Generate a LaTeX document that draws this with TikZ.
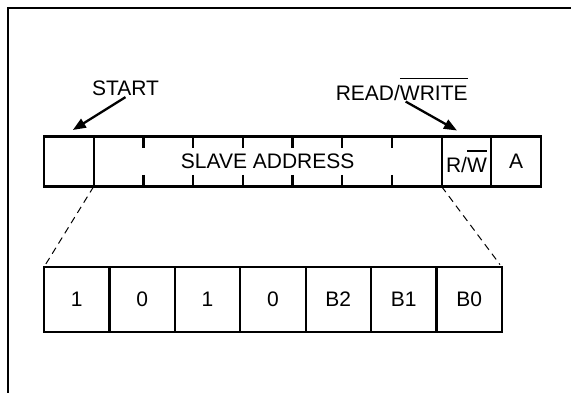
\documentclass[tikz,border=0pt]{standalone}
\usepackage{fontspec}
\setmainfont{Liberation Sans}
\usepackage{tikz}
\usetikzlibrary{arrows.meta}
\usetikzlibrary{positioning}
\usetikzlibrary{calc}

\newcommand{\ovl}[1]{\setbox0\hbox{#1}\rlap{\raisebox{1.45\ht0}{\rule{\wd0}{1.6pt}}}\box0}

\begin{document}
\begin{tikzpicture}[x=1pt,y=-1pt,>={Triangle[length=13pt,width=10pt]},node distance=0pt,
        cell/.style={rectangle,draw=black,line width=2.2pt,outer sep=0pt,inner sep=0pt,
          minimum width=49.7pt,minimum height=50pt,font=\fontsize{21}{24}\selectfont},
        bit/.style={cell,minimum width=65.4pt,minimum height=65pt},
        txt/.style={inner sep=1pt,font=\fontsize{21}{24}\selectfont},
        pointer/.style={->,line width=2.3pt},
        fan/.style={dashed,dash pattern=on 7pt off 5pt,line width=1pt,shorten >=3pt}]

        \useasboundingbox (0,0) rectangle (571,393);
        \draw[line width=2.2pt] (571,8) -- (8,8) -- (8,393);

        % frame of the address byte
        \node [cell,anchor=north west]  (st)  at (44,136.5) {};
        \node [cell,minimum width=347.9pt] (sa) [right=of st] {SLAVE ADDRESS};
        \node [cell]                    (rw)  [right=of sa] {R/\ovl{W}};
        \node [cell]                    (ack) [right=of rw] {A};

        \draw[line width=2.2pt] (sa.north west)
          ++(49.7,0) -- ++(0,11.5) ++(0,27) -- ++(0,11.5)
          ++(49.7,-50) -- ++(0,11.5) ++(0,27) -- ++(0,11.5)
          ++(49.7,-50) -- ++(0,11.5) ++(0,27) -- ++(0,11.5)
          ++(49.7,-50) -- ++(0,11.5) ++(0,27) -- ++(0,11.5)
          ++(49.7,-50) -- ++(0,11.5) ++(0,27) -- ++(0,11.5)
          ++(49.7,-50) -- ++(0,11.5) ++(0,27) -- ++(0,11.5);

        % the seven address bits
        \node [bit,anchor=north west]   (b1)  at (44,267) {1};
        \node [bit]                     (b2)  [right=of b1] {0};
        \node [bit]                     (b3)  [right=of b2] {1};
        \node [bit]                     (b4)  [right=of b3] {0};
        \node [bit]                     (b5)  [right=of b4] {B2};
        \node [bit]                     (b6)  [right=of b5] {B1};
        \node [bit]                     (b7)  [right=of b6] {B0};

        \node [txt]                     (start) at (125.5,88.5) {START};
        \node [txt]                     (rwlab) at (401.7,89) {READ/\ovl{WRITE}};
        \coordinate (stTip) at ($(st.north)+(4,-6.5)$);
        \coordinate (rwTip) at ($(rw.north)+(-9.5,-6)$);

        \path
          (start.south) edge[pointer] (stTip)
          ([xshift=4pt]rwlab.south) edge[pointer] (rwTip)
          (st.south east) edge[fan] (b1.north west)
          (rw.south west) edge[fan] (b7.north east)
        ;
      \end{tikzpicture}
\end{document}
